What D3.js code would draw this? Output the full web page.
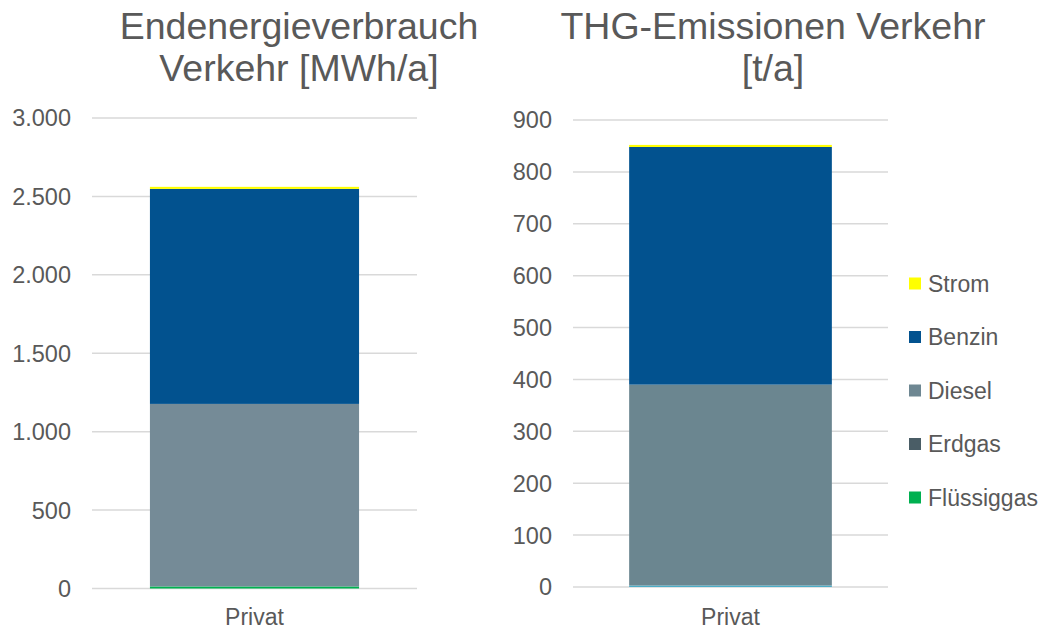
<!DOCTYPE html>
<html>
<head>
<meta charset="utf-8">
<script src="https://cdn.jsdelivr.net/npm/d3@7"></script>
<style>
  body { margin: 0; background: #fff; }
  text { font-family: "Liberation Sans", Arial, sans-serif; fill: #595959; }
</style>
</head>
<body>
<div class="chart"></div>
<script>
// categories and series
var categories = ["Privat"];
var seriesNames = ["Sonstige", "Flüssiggas", "Erdgas", "Diesel", "Benzin", "Strom"];
var legendNames = ["Strom", "Benzin", "Diesel", "Erdgas", "Flüssiggas"];

// Endenergieverbrauch [MWh/a], bottom to top
var energyValues = [0, 13, 0, 1164, 1371, 13];
// THG-Emissionen [t/a], bottom to top
var emissionValues = [3, 0, 0, 387, 458, 4];

var energyTicks = [0, 500, 1000, 1500, 2000, 2500, 3000];
var emissionTicks = [0, 100, 200, 300, 400, 500, 600, 700, 800, 900];

var colorsLeft  = ["#4bacc6", "#00b050", "#4a5d66", "#758b97", "#02528f", "#ffff00"];
var colorsRight = ["#4bacc6", "#00b050", "#4a5d66", "#6b8690", "#02528f", "#ffff00"];
var legendColors = {"Strom": "#ffff00", "Benzin": "#02528f", "Diesel": "#6e8792", "Erdgas": "#4a5d66", "Flüssiggas": "#00b050"};

var width = 1045, height = 632;

var svg = d3.select(".chart").append("svg")
    .attr("width", width)
    .attr("height", height);

var fmt = function(d) { return d3.format(",")(d).replace(/,/g, "."); };

function drawChart(opts) {
  var y = d3.scaleLinear()
      .domain([0, opts.max])
      .range([opts.bottom, opts.top]);

  var x = d3.scaleBand()
      .domain(categories)
      .range([opts.left, opts.right])
      .paddingOuter(0.277)
      .paddingInner(0);

  var g = svg.append("g");

  // gridlines
  g.selectAll(".grid")
    .data(opts.ticks)
    .enter().append("line")
    .attr("x1", opts.left)
    .attr("x2", opts.right)
    .attr("y1", function(d) { return y(d); })
    .attr("y2", function(d) { return y(d); })
    .attr("stroke", "#d9d9d9")
    .attr("stroke-width", 1.5);

  // tick labels
  g.selectAll(".tick")
    .data(opts.ticks)
    .enter().append("text")
    .attr("x", opts.labelX)
    .attr("y", function(d) { return y(d); })
    .attr("dy", "0.36em")
    .style("text-anchor", "end")
    .style("font-size", "23.5px")
    .text(fmt);

  // stacked segments
  var stack = [];
  var cum = 0;
  opts.values.forEach(function(v, i) {
    stack.push({name: seriesNames[i], y0: cum, y1: cum + v, color: opts.colors[i]});
    cum += v;
  });

  g.selectAll(".seg")
    .data(stack.filter(function(d) { return d.y1 > d.y0; }))
    .enter().append("rect")
    .attr("x", x("Privat"))
    .attr("width", x.bandwidth())
    .attr("y", function(d) { return y(d.y1); })
    .attr("height", function(d) { return y(d.y0) - y(d.y1); })
    .attr("fill", function(d) { return d.color; });

  // category label
  g.selectAll(".cat")
    .data(categories)
    .enter().append("text")
    .attr("x", function(d) { return x(d) + x.bandwidth() / 2; })
    .attr("y", 625)
    .style("text-anchor", "middle")
    .style("font-size", "23px")
    .text(function(d) { return d; });

  // title
  g.selectAll(".title")
    .data(opts.title)
    .enter().append("text")
    .attr("x", opts.titleX)
    .attr("y", function(d, i) { return 39 + i * 42; })
    .style("text-anchor", "middle")
    .style("font-size", "37.5px")
    .text(function(d) { return d; });
}

drawChart({
  values: energyValues, colors: colorsLeft, ticks: energyTicks, max: 3000,
  left: 92, right: 417, top: 118, bottom: 588.5, labelX: 71,
  title: ["Endenergieverbrauch", "Verkehr [MWh/a]"], titleX: 299
});

drawChart({
  values: emissionValues, colors: colorsRight, ticks: emissionTicks, max: 900,
  left: 573, right: 888, top: 120, bottom: 587, labelX: 552,
  title: ["THG-Emissionen Verkehr", "[t/a]"], titleX: 773
});

// legend
var legend = svg.append("g");
var ly = d3.scalePoint().domain(legendNames).range([283.5, 497.5]);

legend.selectAll("rect")
  .data(legendNames)
  .enter().append("rect")
  .attr("x", 909)
  .attr("y", function(d) { return ly(d) - 6; })
  .attr("width", 12)
  .attr("height", 12)
  .attr("fill", function(d) { return legendColors[d]; });

legend.selectAll("text")
  .data(legendNames)
  .enter().append("text")
  .attr("x", 928)
  .attr("y", function(d) { return ly(d); })
  .attr("dy", "0.36em")
  .style("font-size", "23px")
  .text(function(d) { return d; });
</script>
</body>
</html>
